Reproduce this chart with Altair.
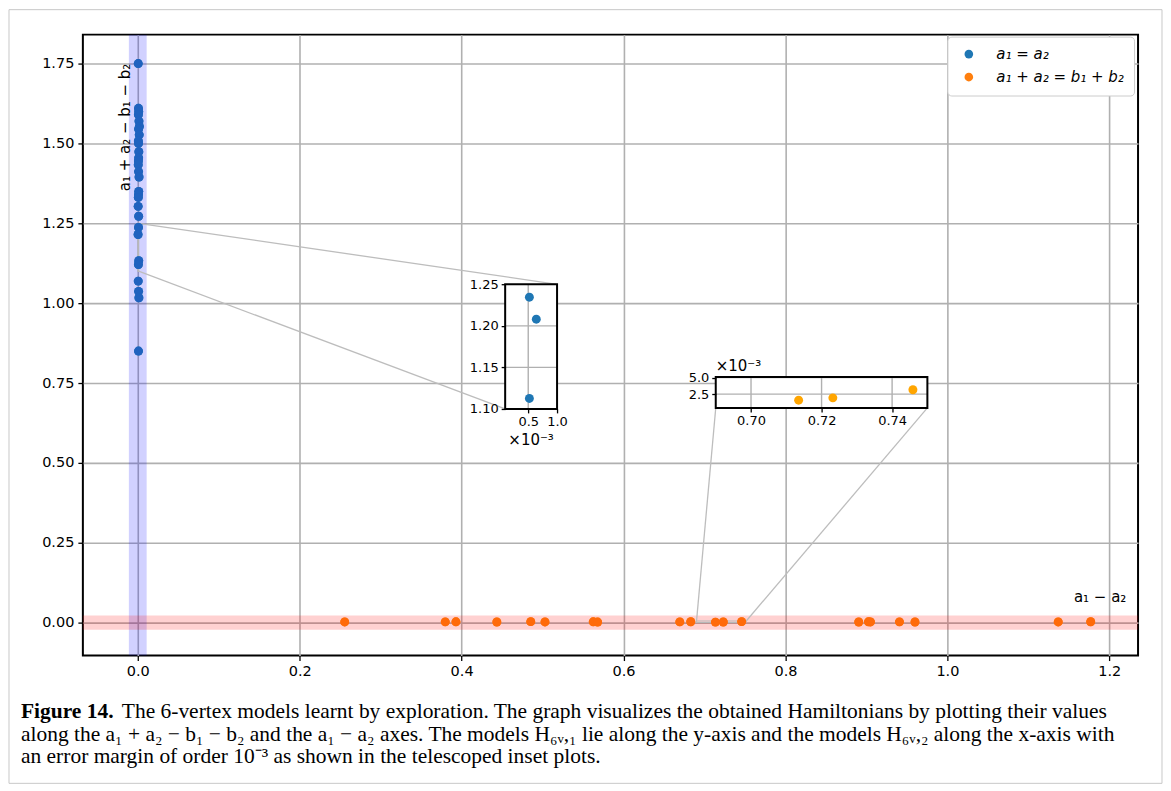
import altair as alt
import pandas as pd

# ---------------- data ----------------
blue_x = [0.0006, 0.0009, 0.0012, 0.0008, 0.0015, 0.0020, 0.0010, 0.0018, 0.0007, 0.0009,
          0.0013, 0.0011, 0.0008, 0.0006, 0.0010, 0.0016, 0.0012, 0.0009, 0.0007, 0.0005,
          0.0011, 0.0009, 0.0004, 0.0012, 0.0008, 0.0006, 0.0010, 0.0014, 0.0009]
blue_y = [1.75, 1.61, 1.60, 1.59, 1.57, 1.553, 1.545, 1.527, 1.508, 1.50,
          1.474, 1.455, 1.445, 1.433, 1.412, 1.395, 1.35, 1.34, 1.331, 1.303,
          1.272, 1.237, 1.215, 1.133, 1.121, 1.069, 1.037, 1.017, 0.85]

orange_x = [0.2556, 0.3798, 0.3930, 0.4435, 0.4854, 0.5030, 0.5626, 0.5680, 0.6695, 0.6830,
            0.7135, 0.7232, 0.7459, 0.8905, 0.9025, 0.9050, 0.9408, 0.9600, 1.1369, 1.1770]
orange_y = [0.0021, 0.0024, 0.0026, 0.0019, 0.0030, 0.0022, 0.0025, 0.0018, 0.0023, 0.0027,
            0.00158, 0.00193, 0.00316, 0.0020, 0.0026, 0.0022, 0.0024, 0.0019, 0.0021, 0.0028]

inset1_x = [0.00052, 0.00064, 0.00052]
inset1_y = [1.2345, 1.2080, 1.1126]
inset2_x = [0.7135, 0.7232, 0.7459]
inset2_y = [0.00158, 0.00193, 0.00316]

series_labels = ["a\u2081 = a\u2082", "a\u2081 + a\u2082 = b\u2081 + b\u2082"]
x_ticks = [0.0, 0.2, 0.4, 0.6, 0.8, 1.0, 1.2]
y_ticks = [0.0, 0.25, 0.5, 0.75, 1.0, 1.25, 1.5, 1.75]
inset1_xticks = [0.0005, 0.001]
inset1_yticks = [1.10, 1.15, 1.20, 1.25]
inset2_xticks = [0.70, 0.72, 0.74]
inset2_yticks = [0.0025, 0.005]

y_label = "a\u2081 + a\u2082 \u2212 b\u2081 \u2212 b\u2082"
x_label = "a\u2081 \u2212 a\u2082"
mult_label = "\u00d710\u207b\u00b3"
caption_bold = "Figure 14."
caption_lines = [
    "The 6-vertex models learnt by exploration. The graph visualizes the obtained Hamiltonians by plotting their values",
    "along the a\u2081 + a\u2082 \u2212 b\u2081 \u2212 b\u2082 and the a\u2081 \u2212 a\u2082 axes. The models H\u2086\u1d65,\u2081 lie along the y-axis and the models H\u2086\u1d65,\u2082 along the x-axis with",
    "an error margin of order 10\u207b\u00b3 as shown in the telescoped inset plots.",
]

# ---------------- layout ----------------
W, H = 1057, 622
XD = [-0.0678, 1.2355]
YD = [-0.1031, 1.8406]

def sx(v):
    return (v - XD[0]) / (XD[1] - XD[0]) * W

def sy(v):
    return H - (v - YD[0]) / (YD[1] - YD[0]) * H

# inset boxes placed in main data coordinates
box1 = dict(x0=0.4538, x1=0.5179, y0=0.669, y1=1.059)
box2 = dict(x0=0.7139, x1=0.9753, y0=0.672, y1=0.769)
dom1x, dom1y = [0.0001, 0.001], [1.10, 1.25]
dom2x, dom2y = [0.69, 0.75], [0.0004, 0.0051]

GRID = "#b0b0b0"
FONT = "DejaVu Sans"

xs = alt.Scale(domain=XD, nice=False, zero=False)
ys = alt.Scale(domain=YD, nice=False, zero=False)
ax_x = alt.Axis(values=x_ticks, format=".1f", grid=True, gridColor=GRID, gridWidth=1.6,
                domain=False, ticks=True, tickColor="black", tickSize=5, tickWidth=1.3,
                labelFontSize=14.5, labelColor="black", labelFont=FONT, labelPadding=4,
                labelFlush=False, labelOverlap=False, title=None)
ax_y = alt.Axis(values=y_ticks, format=".2f", grid=True, gridColor=GRID, gridWidth=1.6,
                domain=False, ticks=True, tickColor="black", tickSize=5, tickWidth=1.3,
                labelFontSize=14.5, labelColor="black", labelFont=FONT, labelPadding=4,
                labelFlush=False, labelOverlap=False, title=None)

def MX(f):
    return alt.X(f, type="quantitative", scale=xs, axis=ax_x)

def MY(f):
    return alt.Y(f, type="quantitative", scale=ys, axis=ax_y)

one = pd.DataFrame({"k": [0]})

# figure frame
frame = alt.Chart(one).mark_rect(fill="white", fillOpacity=0, stroke="#c8c8c8", strokeWidth=1).encode(
    x=alt.value(-74), x2=alt.value(1081), y=alt.value(-25), y2=alt.value(750))

vband_df = pd.DataFrame({"x0": [-0.011], "x1": [0.011], "y0": [YD[0]], "y1": [YD[1]]})
hband_df = pd.DataFrame({"x0": [XD[0]], "x1": [XD[1]], "y0": [-0.0225], "y1": [0.0225]})
vband = alt.Chart(vband_df).mark_rect(fill="blue", fillOpacity=0.18).encode(
    x=MX("x0"), x2="x1", y=MY("y0"), y2="y1")
hband = alt.Chart(hband_df).mark_rect(fill="red", fillOpacity=0.18).encode(
    x=MX("x0"), x2="x1", y=MY("y0"), y2="y1")

ind_df = pd.DataFrame({"x0": [dom1x[0], dom2x[0]], "x1": [dom1x[1], dom2x[1]],
                       "y0": [dom1y[0], dom2y[0]], "y1": [dom1y[1], dom2y[1]]})
indic = alt.Chart(ind_df).mark_rect(fill="white", fillOpacity=0, stroke="#b8b8b8", strokeWidth=1.2).encode(
    x=MX("x0"), x2="x1", y=MY("y0"), y2="y1")

conn_df = pd.DataFrame({
    "xa": [dom1x[1], dom1x[1], dom2x[0], dom2x[1]],
    "ya": [dom1y[1], dom1y[0], dom2y[0], dom2y[0]],
    "xb": [box1["x1"], box1["x0"], box2["x0"], box2["x1"]],
    "yb": [box1["y1"], box1["y0"], box2["y0"], box2["y0"]]})
conn = alt.Chart(conn_df).mark_rule(color="#bdbdbd", strokeWidth=1.3).encode(
    x=MX("xa"), y=MY("ya"), x2="xb", y2="yb")

pts_df = pd.DataFrame({
    "x": blue_x + orange_x,
    "y": blue_y + orange_y,
    "s": [series_labels[0]] * len(blue_x) + [series_labels[1]] * len(orange_x)})

legend_pts = alt.Chart(pts_df).mark_circle(size=80, opacity=1).encode(
    x=MX("x"), y=MY("y"),
    color=alt.Color("s:N", scale=alt.Scale(domain=series_labels, range=["#1f77b4", "#ff7f0e"]),
                    legend=alt.Legend(title=None, orient="none", legendX=866, legendY=2,
                                      symbolType="circle", symbolSize=75, symbolOpacity=1,
                                      labelFontSize=15, labelFont=FONT, labelFontStyle="italic",
                                      labelColor="black", labelOffset=20, padding=10,
                                      rowPadding=7, fillColor="white", strokeColor="#cccccc",
                                      cornerRadius=4, symbolOffset=4)))
pts = alt.Chart(pts_df).mark_circle(size=80, opacity=1).encode(
    x=MX("x"), y=MY("y"),
    color=alt.Color("c:N", scale=None))
pts = pts.transform_calculate(
    c=f"datum.s == '{series_labels[0]}' ? '#1f62bf' : '#ff6a0a'")

ylab = alt.Chart(one).mark_text(text=y_label, angle=270, fontSize=15, font=FONT,
                                color="black", align="center", baseline="middle").encode(
    x=alt.value(42), y=alt.value(93))
xlab = alt.Chart(one).mark_text(text=x_label, fontSize=15, font=FONT, color="black",
                                align="center", baseline="middle").encode(
    x=alt.value(1019), y=alt.value(563))

CAP_FONT = "Liberation Serif"
CAP_SIZE = 21.5
cap0 = alt.Chart(one).mark_text(text=caption_bold, fontSize=CAP_SIZE, font=CAP_FONT, fontWeight="bold",
                                color="black", align="left", baseline="alphabetic").encode(
    x=alt.value(-62), y=alt.value(685))
cap1 = alt.Chart(one).mark_text(text=caption_lines[0], fontSize=CAP_SIZE, font=CAP_FONT, color="black",
                                align="left", baseline="alphabetic").encode(
    x=alt.value(39), y=alt.value(685))
cap2 = alt.Chart(one).mark_text(text=caption_lines[1], fontSize=CAP_SIZE, font=CAP_FONT, color="black",
                                align="left", baseline="alphabetic").encode(
    x=alt.value(-62), y=alt.value(708))
cap3 = alt.Chart(one).mark_text(text=caption_lines[2], fontSize=CAP_SIZE, font=CAP_FONT, color="black",
                                align="left", baseline="alphabetic").encode(
    x=alt.value(-62), y=alt.value(730))

main = alt.layer(frame, vband, hband, indic, conn, legend_pts, pts, ylab, xlab, cap0, cap1, cap2, cap3)


# ---------------- insets ----------------
def make_inset(box, dx, dy, xticks, yticks, xlabexpr, ylabexpr, px, py, color,
               gx, gy, mult_x, mult_y, mult_dy, mult_align):
    sX = alt.Scale(domain=dx, range=[sx(box["x0"]), sx(box["x1"])], nice=False, zero=False)
    sY = alt.Scale(domain=dy, range=[sy(box["y0"]), sy(box["y1"])], nice=False, zero=False)
    aX = alt.Axis(orient="bottom", offset=sy(box["y0"]) - H, values=xticks, labelExpr=xlabexpr,
                  grid=False, domain=False, ticks=True, tickColor="black", tickSize=4,
                  tickWidth=1.3, labelFontSize=13, labelFont=FONT, labelColor="black",
                  labelPadding=3, labelFlush=False, labelOverlap=False, title=None, zindex=2)
    aY = alt.Axis(orient="left", offset=-sx(box["x0"]), values=yticks, labelExpr=ylabexpr,
                  grid=False, domain=False, ticks=True, tickColor="black", tickSize=4,
                  tickWidth=1.3, labelFontSize=13, labelFont=FONT, labelColor="black",
                  labelPadding=3, labelFlush=False, labelOverlap=False, title=None, zindex=2)

    def IX(f):
        return alt.X(f, type="quantitative", scale=sX, axis=aX)

    def IY(f):
        return alt.Y(f, type="quantitative", scale=sY, axis=aY)

    bg_df = pd.DataFrame({"x0": [dx[0]], "x1": [dx[1]], "y0": [dy[0]], "y1": [dy[1]]})
    bg = alt.Chart(bg_df).mark_rect(fill="white").encode(
        x=IX("x0"), x2="x1", y=IY("y0"), y2="y1")
    fr = alt.Chart(bg_df).mark_rect(fill="white", fillOpacity=0, stroke="black", strokeWidth=2).encode(
        x=IX("x0"), x2="x1", y=IY("y0"), y2="y1")
    g_df = pd.DataFrame({
        "xa": gx + [dx[0]] * len(gy),
        "xb": gx + [dx[1]] * len(gy),
        "ya": [dy[0]] * len(gx) + gy,
        "yb": [dy[1]] * len(gx) + gy})
    grid = alt.Chart(g_df).mark_rule(color=GRID, strokeWidth=1.4).encode(
        x=IX("xa"), x2="xb", y=IY("ya"), y2="yb")
    p_df = pd.DataFrame({"x": px, "y": py})
    p = alt.Chart(p_df).mark_circle(size=80, opacity=1, color=color).encode(x=IX("x"), y=IY("y"))
    m_df = pd.DataFrame({"x": [mult_x], "y": [mult_y]})
    m = alt.Chart(m_df).mark_text(text=mult_label, fontSize=15, font=FONT, color="black",
                                  align=mult_align, baseline="middle", dy=mult_dy).encode(
        x=IX("x"), y=IY("y"))
    return alt.layer(bg, grid, p, fr, m)


lab1000 = "format(datum.value * 1000, '.1f')"
inset1 = make_inset(box1, dom1x, dom1y, inset1_xticks, inset1_yticks, lab1000,
                    "format(datum.value, '.2f')", inset1_x, inset1_y, "#1f77b4",
                    [0.0005], [1.15, 1.20], 0.00055, dom1y[0], 31, "center")
inset2 = make_inset(box2, dom2x, dom2y, inset2_xticks, inset2_yticks,
                    "format(datum.value, '.2f')", lab1000, inset2_x, inset2_y, "#ffa500",
                    [0.70, 0.72, 0.74], [0.0025, 0.005], dom2x[0], dom2y[1], -11, "left")

chart = alt.layer(main, inset1, inset2).resolve_scale(
    x="independent", y="independent", color="independent"
).properties(width=W, height=H, padding=0).configure_view(stroke="black", strokeWidth=2)

chart.save("out.html", embed_options={"renderer": "svg", "actions": False})
